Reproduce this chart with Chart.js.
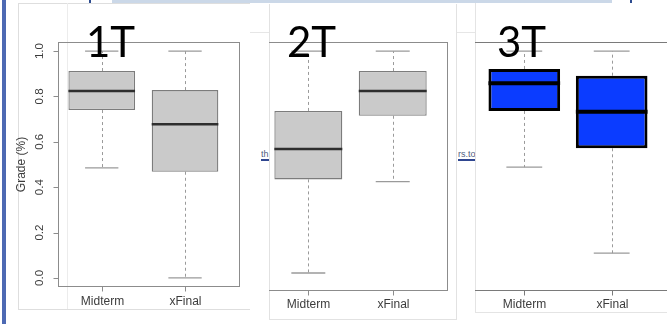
<!DOCTYPE html>
<html>
<head>
<meta charset="utf-8">
<script src="https://cdn.jsdelivr.net/npm/chart.js@4.4.1/dist/chart.umd.min.js"></script>
<style>
  html, body { margin: 0; padding: 0; background: #fff; }
  #stage { position: relative; width: 667px; height: 324px; overflow: hidden; background: #fff; }
  .abs { position: absolute; box-sizing: border-box; }
  canvas { position: absolute; }
  .link { position: absolute; font: 9px "Liberation Sans", Arial, sans-serif; color: #51607f;
          border-bottom: 2px solid #2f4690; line-height: 9px; white-space: nowrap; overflow: hidden; }
</style>
</head>
<body>
<div id="stage">
  <!-- slide furniture behind the three plots -->
  <div class="abs" style="left:2px;top:0;width:4px;height:324px;background:#4d69b3"></div>
  <div class="abs" style="left:112px;top:0;width:500px;height:3px;background:#cbd8e8"></div>
  <div class="abs" style="left:89px;top:0;width:2px;height:9px;background:#2d4b8f"></div>
  <div class="abs" style="left:630px;top:0;width:2px;height:5px;background:#2d4b8f"></div>
  <div class="abs" style="left:240px;top:32px;width:235px;height:1px;background:#e6e6e6"></div>

  <!-- plot backgrounds -->
  <div class="abs" style="left:18px;top:3px;width:232px;height:307px;background:#fff;border:1px solid #dedede;border-right:none"></div>
  <div class="abs" style="left:67px;top:3px;width:1px;height:306px;background:#ececec"></div>
  <div class="link" style="left:261px;top:150px;width:8px">th</div>
  <div class="link" style="left:458px;top:150px;width:17px">rs.to</div>
  <div class="abs" style="left:269px;top:4px;width:188px;height:316px;background:#fff;border:1px solid #e2e2e2;border-top:none"></div>
  <div class="abs" style="left:475px;top:3px;width:192px;height:310px;background:#fff;border-left:1px solid #e4e4e4;border-bottom:1px solid #e4e4e4"></div>

  <canvas id="c1" width="242" height="307" style="left:8px;top:3px"></canvas>
  <canvas id="c2" width="188" height="315" style="left:269px;top:4px"></canvas>
  <canvas id="c3" width="192" height="309" style="left:475px;top:3px"></canvas>
</div>

<script>
// Categories and tick labels
const categories = ['Midterm', 'xFinal'];
const yTickValues = [0, 0.2, 0.4, 0.6, 0.8, 1.0];
const yTickLabels = ['0.0', '0.2', '0.4', '0.6', '0.8', '1.0'];
const yAxisTitle = 'Grade (%)';

// Box statistics, one entry per category: [Midterm, xFinal]
const t1Lower  = [0.485, 0.000];
const t1Q1     = [0.740, 0.468];
const t1Median = [0.824, 0.677];
const t1Q3     = [0.912, 0.828];
const t1Upper  = [1.000, 1.000];

const t2Lower  = [0.038, 0.434];
const t2Q1     = [0.444, 0.720];
const t2Median = [0.576, 0.827];
const t2Q3     = [0.741, 0.914];
const t2Upper  = [1.000, 1.000];

const t3Lower  = [0.497, 0.124];
const t3Q1     = [0.741, 0.579];
const t3Median = [0.861, 0.738];
const t3Q3     = [0.923, 0.894];
const t3Upper  = [1.000, 1.000];

const AXIS_FONT = '"Liberation Sans", Arial, Helvetica, sans-serif';

// Whiskers, caps, medians, frame, axes and the big term label
const boxPlotPlugin = {
  id: 'boxPlot',
  beforeDatasetsDraw(chart) {
    const o = chart.options.plugins.boxPlot;
    const ctx = chart.ctx;
    const ys = chart.scales.y;
    const meta = chart.getDatasetMeta(0);
    ctx.save();
    meta.data.forEach((bar, i) => {
      const x = Math.round(bar.x) + 0.5;
      const half = bar.width * o.capRatio / 2;
      const yLo = ys.getPixelForValue(o.lower[i]);
      const yQ1 = ys.getPixelForValue(o.q1[i]);
      const yQ3 = ys.getPixelForValue(o.q3[i]);
      const yHi = ys.getPixelForValue(o.upper[i]);
      ctx.strokeStyle = o.whiskerColor;
      ctx.lineWidth = 1;
      ctx.setLineDash([3, 3]);
      ctx.beginPath();
      ctx.moveTo(x, yQ3); ctx.lineTo(x, yHi);
      ctx.moveTo(x, yQ1); ctx.lineTo(x, yLo);
      ctx.stroke();
      ctx.setLineDash([]);
      ctx.lineWidth = 1.3;
      ctx.beginPath();
      ctx.moveTo(bar.x - half, yHi); ctx.lineTo(bar.x + half, yHi);
      ctx.moveTo(bar.x - half, yLo); ctx.lineTo(bar.x + half, yLo);
      ctx.stroke();
    });
    ctx.restore();
  },
  afterDatasetsDraw(chart) {
    const o = chart.options.plugins.boxPlot;
    const ctx = chart.ctx;
    const ys = chart.scales.y;
    const xs = chart.scales.x;
    const area = chart.chartArea;
    const meta = chart.getDatasetMeta(0);
    ctx.save();

    // medians
    meta.data.forEach((bar, i) => {
      const ym = ys.getPixelForValue(o.median[i]);
      ctx.strokeStyle = o.medianColor;
      ctx.lineWidth = o.medianWidth;
      ctx.beginPath();
      ctx.moveTo(bar.x - bar.width / 2, ym);
      ctx.lineTo(bar.x + bar.width / 2, ym);
      ctx.stroke();
    });

    // plot frame
    const L = Math.round(area.left) + 0.5, R = Math.round(area.right) - 0.5;
    const T = Math.round(area.top) + 0.5, B = Math.round(area.bottom) - 0.5;
    ctx.strokeStyle = o.frameColor;
    ctx.lineWidth = 1;
    ctx.beginPath();
    if (o.frame.top)    { ctx.moveTo(area.left, T); ctx.lineTo(area.right, T); }
    if (o.frame.bottom) { ctx.moveTo(area.left, B); ctx.lineTo(area.right, B); }
    if (o.frame.left)   { ctx.moveTo(L, area.top); ctx.lineTo(L, area.bottom); }
    if (o.frame.right)  { ctx.moveTo(R, area.top); ctx.lineTo(R, area.bottom); }
    ctx.stroke();

    // category axis
    ctx.fillStyle = '#3c3c3c';
    ctx.font = '12px ' + AXIS_FONT;
    ctx.textAlign = 'center';
    ctx.textBaseline = 'middle';
    categories.forEach((c, i) => {
      const px = Math.round(xs.getPixelForValue(i + 1)) + 0.5;
      ctx.strokeStyle = o.frameColor;
      ctx.beginPath();
      ctx.moveTo(px, B); ctx.lineTo(px, B + 5);
      ctx.stroke();
      ctx.fillText(c, px, B + o.labelGap);
    });

    // value axis
    if (o.showYAxis) {
      ctx.strokeStyle = o.frameColor;
      ctx.beginPath();
      ctx.moveTo(L, ys.getPixelForValue(yTickValues[0]));
      ctx.lineTo(L, ys.getPixelForValue(yTickValues[yTickValues.length - 1]));
      yTickValues.forEach(v => {
        const py = Math.round(ys.getPixelForValue(v)) + 0.5;
        ctx.moveTo(L, py); ctx.lineTo(L - 5, py);
      });
      ctx.stroke();
      ctx.font = '11.5px ' + AXIS_FONT;
      yTickValues.forEach((v, i) => {
        const py = ys.getPixelForValue(v);
        ctx.save();
        ctx.translate(area.left - 18, py);
        ctx.rotate(-Math.PI / 2);
        ctx.fillText(yTickLabels[i], 0, 0);
        ctx.restore();
      });
      ctx.font = '12px ' + AXIS_FONT;
      ctx.save();
      ctx.translate(area.left - 36, (area.top + area.bottom) / 2);
      ctx.rotate(-Math.PI / 2);
      ctx.fillText(yAxisTitle, 0, 0);
      ctx.restore();
    }

    // term label
    ctx.fillStyle = '#000';
    ctx.font = '42px Lato, "Open Sans", sans-serif';
    ctx.textAlign = 'left';
    ctx.textBaseline = 'alphabetic';
    ctx.fillText(o.tag, o.tagX, o.tagY);
    ctx.restore();
  }
};

function makeBoxChart(id, stats, look) {
  return new Chart(document.getElementById(id), {
    type: 'bar',
    data: {
      datasets: [{
        data: categories.map((c, i) => ({ x: i + 1, y: [stats.q1[i], stats.q3[i]] })),
        backgroundColor: look.fill,
        borderColor: look.border,
        borderWidth: look.borderWidth,
        borderSkipped: false,
        barPercentage: look.barPercentage,
        categoryPercentage: 1
      }]
    },
    options: {
      responsive: false,
      animation: false,
      devicePixelRatio: 1,
      layout: { padding: look.padding },
      scales: {
        x: {
          type: 'linear', min: look.xMin, max: look.xMax, display: false, offset: false,
          // one tick per category, so box width follows category spacing
          afterBuildTicks: scale => { scale.ticks = categories.map((c, i) => ({ value: i + 1 })); }
        },
        y: { min: -0.04, max: 1.04, display: false }
      },
      plugins: {
        legend: { display: false },
        tooltip: { enabled: false },
        boxPlot: Object.assign({}, stats, look.axes)
      }
    },
    plugins: [boxPlotPlugin]
  });
}

const greyLook = {
  fill: '#cacaca', border: '#7c7c7c', borderWidth: 1.3
};

makeBoxChart('c1',
  { lower: t1Lower, q1: t1Q1, median: t1Median, q3: t1Q3, upper: t1Upper },
  Object.assign({}, greyLook, {
    barPercentage: 0.8,
    padding: { left: 50, top: 39, right: 10, bottom: 23 },
    xMin: 0.475, xMax: 2.66,
    axes: {
      tag: '1T', tagX: 78, tagY: 54,
      capRatio: 0.5, whiskerColor: '#9a9a9a',
      medianColor: '#2e2e2e', medianWidth: 2.5,
      frameColor: '#8c8c8c', labelGap: 15, showYAxis: true,
      frame: { top: true, bottom: true, left: true, right: true }
    }
  }));

makeBoxChart('c2',
  { lower: t2Lower, q1: t2Q1, median: t2Median, q3: t2Q3, upper: t2Upper },
  Object.assign({}, greyLook, {
    barPercentage: 0.805,
    padding: { left: 0, top: 38, right: 9, bottom: 28 },
    xMin: 0.534, xMax: 2.655,
    axes: {
      tag: '2T', tagX: 18, tagY: 53,
      capRatio: 0.5, whiskerColor: '#9a9a9a',
      medianColor: '#2e2e2e', medianWidth: 2.5,
      frameColor: '#8c8c8c', labelGap: 14, showYAxis: false,
      frame: { top: true, bottom: true, left: false, right: true }
    }
  }));

makeBoxChart('c3',
  { lower: t3Lower, q1: t3Q1, median: t3Median, q3: t3Q3, upper: t3Upper },
  {
    fill: '#0b3cff', border: '#000000', borderWidth: 3,
    barPercentage: 0.82,
    padding: { left: 0, top: 39, right: 0, bottom: 21 },
    xMin: 0.436, xMax: 2.633,
    axes: {
      tag: '3T', tagX: 22, tagY: 54,
      capRatio: 0.5, whiskerColor: '#9a9a9a',
      medianColor: '#000000', medianWidth: 4,
      frameColor: '#7a7a7a', labelGap: 14, showYAxis: false,
      frame: { top: true, bottom: true, left: false, right: false }
    }
  });
</script>
</body>
</html>
